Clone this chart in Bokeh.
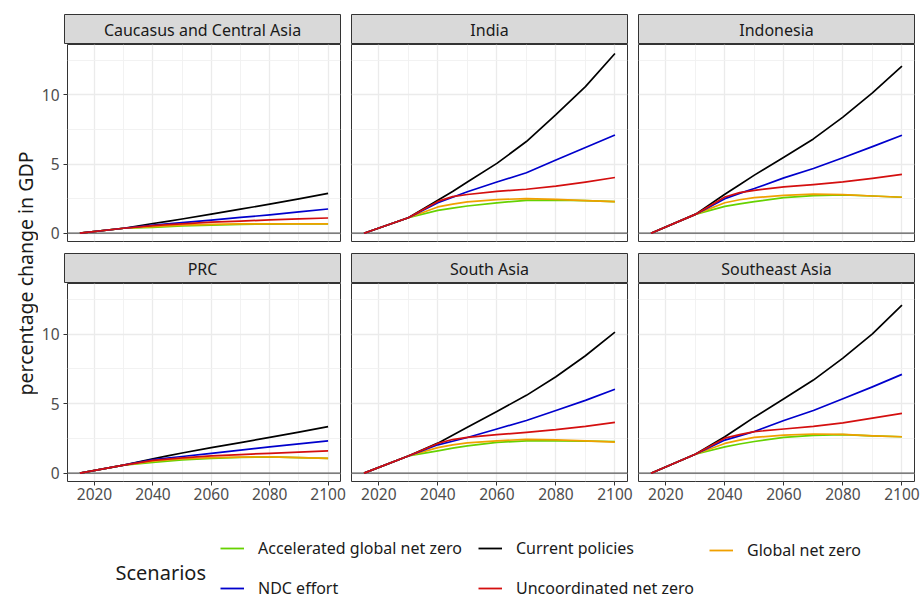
import math
from bokeh.plotting import figure
from bokeh.layouts import row, column
from bokeh.models import Range1d, FixedTicker, Span, Label, Legend, LegendItem
from bokeh.embed import file_html
from bokeh.resources import INLINE

# ---------------- data ----------------
years = [2015, 2030, 2040, 2045, 2050, 2060, 2070, 2080, 2090, 2100]

regions = ["Caucasus and Central Asia", "India", "Indonesia",
           "PRC", "South Asia", "Southeast Asia"]
scenarios = ["Accelerated global net zero", "Current policies", "Global net zero",
             "NDC effort", "Uncoordinated net zero"]
colors = ["#66D200", "#000000", "#F0A000", "#0000CC", "#D40F0F"]

x_major = [2020, 2040, 2060, 2080, 2100]
x_minor = [2030, 2050, 2070, 2090]
y_major = [0, 5, 10]
y_minor = [2.5, 7.5, 12.5]

cca_accel = [0, 0.36, 0.42, 0.47, 0.52, 0.59, 0.64, 0.66, 0.67, 0.67]
cca_current = [0, 0.36, 0.70, 0.86, 1.03, 1.38, 1.74, 2.10, 2.48, 2.88]
cca_global = [0, 0.36, 0.48, 0.53, 0.58, 0.64, 0.67, 0.68, 0.68, 0.67]
cca_ndc = [0, 0.36, 0.58, 0.67, 0.76, 0.95, 1.14, 1.33, 1.54, 1.75]
cca_unco = [0, 0.36, 0.55, 0.62, 0.68, 0.80, 0.88, 0.96, 1.03, 1.10]

ind_accel = [0, 1.12, 1.65, 1.82, 1.97, 2.20, 2.38, 2.40, 2.35, 2.28]
ind_current = [0, 1.12, 2.38, 3.02, 3.71, 5.05, 6.63, 8.57, 10.6, 13.0]
ind_global = [0, 1.12, 1.90, 2.10, 2.26, 2.43, 2.50, 2.45, 2.35, 2.28]
ind_ndc = [0, 1.12, 2.20, 2.60, 3.00, 3.70, 4.37, 5.30, 6.20, 7.10]
ind_unco = [0, 1.12, 2.30, 2.65, 2.80, 3.03, 3.18, 3.40, 3.70, 4.03]

idn_accel = [0, 1.36, 1.94, 2.12, 2.28, 2.57, 2.72, 2.77, 2.69, 2.60]
idn_current = [0, 1.36, 2.82, 3.50, 4.20, 5.49, 6.82, 8.40, 10.15, 12.09]
idn_global = [0, 1.36, 2.20, 2.42, 2.57, 2.74, 2.82, 2.79, 2.69, 2.60]
idn_ndc = [0, 1.36, 2.50, 2.88, 3.23, 4.00, 4.68, 5.46, 6.26, 7.09]
idn_unco = [0, 1.36, 2.62, 2.94, 3.10, 3.35, 3.52, 3.71, 3.96, 4.25]

prc_accel = [0, 0.58, 0.78, 0.87, 0.95, 1.07, 1.14, 1.17, 1.12, 1.07]
prc_current = [0, 0.58, 1.04, 1.25, 1.45, 1.84, 2.20, 2.57, 2.95, 3.35]
prc_global = [0, 0.58, 0.87, 0.95, 1.02, 1.12, 1.16, 1.17, 1.12, 1.07]
prc_ndc = [0, 0.58, 0.97, 1.09, 1.20, 1.43, 1.66, 1.89, 2.11, 2.33]
prc_unco = [0, 0.58, 0.92, 1.01, 1.10, 1.24, 1.34, 1.43, 1.52, 1.60]

sa_accel = [0, 1.24, 1.60, 1.80, 1.97, 2.21, 2.33, 2.33, 2.30, 2.28]
sa_current = [0, 1.24, 2.16, 2.72, 3.30, 4.44, 5.60, 6.94, 8.45, 10.15]
sa_global = [0, 1.24, 1.84, 2.03, 2.18, 2.33, 2.43, 2.40, 2.33, 2.23]
sa_ndc = [0, 1.24, 2.04, 2.30, 2.57, 3.18, 3.79, 4.51, 5.24, 6.04]
sa_unco = [0, 1.24, 2.14, 2.42, 2.57, 2.77, 2.94, 3.13, 3.37, 3.66]

sea_accel = [0, 1.36, 1.89, 2.10, 2.28, 2.57, 2.72, 2.77, 2.69, 2.62]
sea_current = [0, 1.36, 2.62, 3.32, 4.03, 5.36, 6.70, 8.28, 10.02, 12.09]
sea_global = [0, 1.36, 2.14, 2.38, 2.57, 2.74, 2.82, 2.79, 2.69, 2.62]
sea_ndc = [0, 1.36, 2.38, 2.68, 3.00, 3.79, 4.51, 5.36, 6.21, 7.11]
sea_unco = [0, 1.36, 2.52, 2.77, 2.99, 3.18, 3.37, 3.62, 3.96, 4.30]

region_series = [
    [cca_accel, cca_current, cca_global, cca_ndc, cca_unco],
    [ind_accel, ind_current, ind_global, ind_ndc, ind_unco],
    [idn_accel, idn_current, idn_global, idn_ndc, idn_unco],
    [prc_accel, prc_current, prc_global, prc_ndc, prc_unco],
    [sa_accel, sa_current, sa_global, sa_ndc, sa_unco],
    [sea_accel, sea_current, sea_global, sea_ndc, sea_unco],
]

# ---------------- style / layout ----------------
FONT = "Noto Sans"
FRAME_W = 276
LEFT_B = 26
RIGHT_GAP = 11
LAST_RIGHT = 8
YLAB_W = 38
TOP_PAD = 14
X_RANGE = (2010.75, 2104.25)
Y_RANGE = (-0.6, 13.65)


def borders(col):
    left = LEFT_B if col == 0 else 0
    right = RIGHT_GAP if col < 2 else LAST_RIGHT
    return left, right


def make_strip(title, col, top):
    left, right = borders(col)
    p = figure(width=left + FRAME_W + right, height=30 + top,
               x_range=Range1d(0, 1), y_range=Range1d(0, 1),
               output_backend="svg", toolbar_location=None,
               min_border_left=left, min_border_right=right,
               min_border_top=top, min_border_bottom=0)
    p.axis.visible = False
    p.grid.visible = False
    p.background_fill_color = "#D9D9D9"
    p.border_fill_color = "white"
    p.outline_line_color = "#333333"
    p.outline_line_width = 1
    p.add_layout(Label(x=0.5, y=0.5, text=title, text_align="center",
                       text_baseline="middle", text_font=FONT,
                       text_font_size="16px", text_color="#1A1A1A"))
    return p


def make_panel(idx, col, rowi):
    left, right = borders(col)
    frame_h = 197 if rowi == 0 else 198
    bottom = 12 if rowi == 0 else 28
    p = figure(width=left + FRAME_W + right, height=frame_h + bottom,
               x_range=Range1d(*X_RANGE), y_range=Range1d(*Y_RANGE),
               output_backend="svg", toolbar_location=None,
               min_border_left=left, min_border_right=right,
               min_border_top=0, min_border_bottom=bottom)
    p.background_fill_color = "white"
    p.border_fill_color = "white"
    p.outline_line_color = "#333333"
    p.outline_line_width = 1

    xt = FixedTicker(ticks=x_major, minor_ticks=x_minor)
    yt = FixedTicker(ticks=y_major, minor_ticks=y_minor)
    p.xaxis.ticker = xt
    p.yaxis.ticker = yt
    p.xgrid.ticker = xt
    p.ygrid.ticker = yt
    for g in (p.xgrid, p.ygrid):
        g.grid_line_color = "#EBEBEB"
        g.grid_line_width = 1.3
        g.minor_grid_line_color = "#F0F0F0"
        g.minor_grid_line_width = 0.9

    for ax in (p.xaxis, p.yaxis):
        ax.axis_line_color = None
        ax.major_tick_line_color = "#333333"
        ax.major_tick_in = 0
        ax.major_tick_out = 4
        ax.minor_tick_line_color = None
        ax.major_label_text_font = FONT
        ax.major_label_text_font_size = "15.5px"
        ax.major_label_text_color = "#4D4D4D"
    p.xaxis.major_label_standoff = 2
    p.yaxis.major_label_standoff = 4

    if rowi == 0:
        p.xaxis.visible = False
    if col != 0:
        p.yaxis.visible = False

    zero = Span(location=0, dimension="width", line_color="#595959",
                line_width=1.3, level="underlay")
    p.add_layout(zero)

    for s, c in zip(region_series[idx], colors):
        p.line(years, s, line_color=c, line_width=1.7, line_join="round")
    return p


top_strips = row([make_strip(regions[i], i, TOP_PAD) for i in range(3)], spacing=0)
top_panels = row([make_panel(i, i, 0) for i in range(3)], spacing=0)
bot_strips = row([make_strip(regions[3 + i], i, 0) for i in range(3)], spacing=0)
bot_panels = row([make_panel(3 + i, i, 1) for i in range(3)], spacing=0)
grid = column([top_strips, top_panels, bot_strips, bot_panels], spacing=0)

GRID_H = (TOP_PAD + 30) + 209 + 30 + 226

ylab = figure(width=YLAB_W, height=GRID_H, x_range=Range1d(0, YLAB_W),
              y_range=Range1d(GRID_H, 0), output_backend="svg",
              toolbar_location=None, min_border=0)
ylab.axis.visible = False
ylab.grid.visible = False
ylab.outline_line_color = None
ylab.add_layout(Label(x=25, y=273, text="percentage change in GDP",
                      angle=math.pi / 2, text_align="center",
                      text_baseline="middle", text_font=FONT,
                      text_font_size="19.5px", text_color="#1A1A1A"))

TOTAL_H = 600
LEG_H = TOTAL_H - GRID_H
TOTAL_W = YLAB_W + (LEFT_B + FRAME_W + RIGHT_GAP) + (FRAME_W + RIGHT_GAP) + (FRAME_W + LAST_RIGHT)
lp = figure(width=TOTAL_W, height=LEG_H, x_range=Range1d(0, TOTAL_W),
            y_range=Range1d(LEG_H, 0), output_backend="svg",
            toolbar_location=None, min_border=0)
lp.axis.visible = False
lp.grid.visible = False
lp.outline_line_color = None

# key renderers for the legend (kept outside the visible range)
dummy = [lp.line(x=[-100, -90], y=[-100, -100], line_color=c, line_width=1.8)
         for c in colors]
lp.add_layout(Label(x=115, y=572 - GRID_H, text="Scenarios", text_align="left",
                    text_baseline="middle", text_font=FONT,
                    text_font_size="20px", text_color="#1A1A1A"))

ITEM_H = 20
ROW1_C = 551 - GRID_H
ROW2_C = 589 - GRID_H
SPACING = (ROW2_C - ROW1_C) - ITEM_H
row1_top = ROW1_C - ITEM_H / 2


def add_legend(idxs, x):
    items = [LegendItem(label=scenarios[i], renderers=[dummy[i]]) for i in idxs]
    n = len(idxs)
    h = n * ITEM_H + (n - 1) * SPACING
    y_bottom_from_bottom = LEG_H - (row1_top + h)
    lg = Legend(items=items, location=(x, y_bottom_from_bottom),
                orientation="vertical", padding=0, margin=0, spacing=SPACING,
                glyph_width=24, glyph_height=ITEM_H, label_height=ITEM_H,
                label_standoff=14, label_text_font=FONT,
                label_text_font_size="16px", label_text_color="#1A1A1A",
                border_line_color=None, background_fill_alpha=0)
    lp.add_layout(lg)


add_legend([0, 3], 220)
add_legend([1, 4], 478)
add_legend([2], 709)

layout = column([row([ylab, grid], spacing=0), lp], spacing=0)

open("out.html", "w").write(file_html(layout, INLINE))
